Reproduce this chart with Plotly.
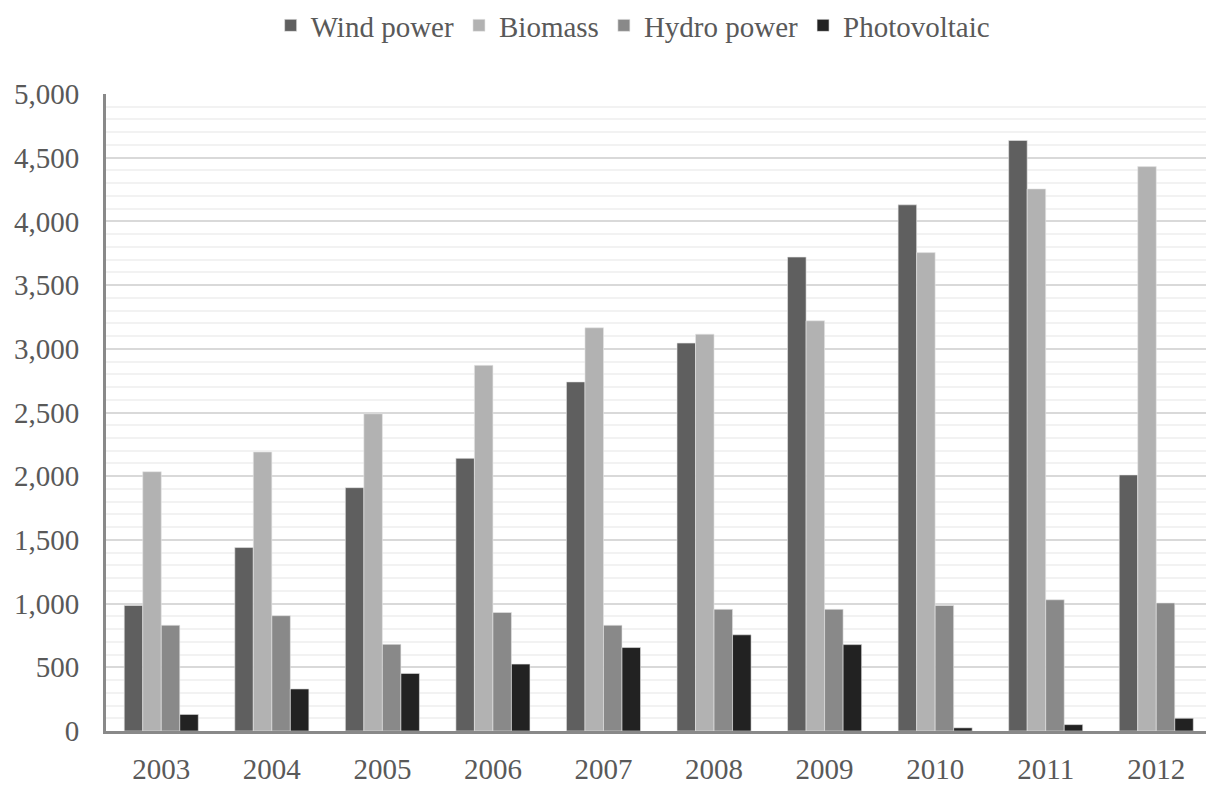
import plotly.graph_objects as go

years = ["2003", "2004", "2005", "2006", "2007", "2008", "2009", "2010", "2011", "2012"]
wind_power = [985, 1440, 1910, 2140, 2740, 3045, 3720, 4130, 4635, 2010]
biomass = [2035, 2190, 2490, 2870, 3165, 3115, 3220, 3755, 4255, 4430]
hydro_power = [830, 905, 680, 930, 830, 955, 955, 985, 1030, 1005]
photovoltaic = [130, 330, 452, 525, 655, 755, 678, 25, 50, 100]

series = [
    ("Wind power", wind_power, "#5f5f5f"),
    ("Biomass", biomass, "#b2b2b2"),
    ("Hydro power", hydro_power, "#898989"),
    ("Photovoltaic", photovoltaic, "#222222"),
]

font_family = "Liberation Serif, Times New Roman, serif"
text_color = "#595959"

fig = go.Figure()
for name, values, color in series:
    fig.add_trace(go.Bar(
        name=name,
        x=years,
        y=values,
        marker=dict(color=color, line=dict(color="#e6e6e6", width=0.6)),
    ))

fig.update_layout(
    width=1206,
    height=785,
    barmode="group",
    bargap=0.33,
    bargroupgap=0,
    plot_bgcolor="white",
    paper_bgcolor="white",
    margin=dict(l=106, r=0, t=94, b=51),
    font=dict(family=font_family, size=29, color=text_color),
    legend=dict(
        orientation="h",
        xref="container",
        yref="container",
        x=0.525,
        xanchor="center",
        y=1.0,
        yanchor="top",
        font=dict(family=font_family, size=29, color=text_color),
        itemwidth=30,
        tracegroupgap=0,
    ),
    xaxis=dict(
        type="category",
        range=[-0.5, 9.45],
        showgrid=False,
        showline=True,
        linecolor="#898989",
        linewidth=3,
        ticks="",
        ticklabelstandoff=10,
        tickfont=dict(family=font_family, size=29, color=text_color),
    ),
    yaxis=dict(
        range=[0, 5000],
        dtick=500,
        tickformat=",d",
        showgrid=True,
        gridcolor="#d9d9d9",
        gridwidth=2,
        showline=True,
        linecolor="#898989",
        linewidth=3,
        ticks="",
        ticklabelstandoff=18,
        zeroline=False,
        tickfont=dict(family=font_family, size=29, color=text_color),
        minor=dict(dtick=100, showgrid=True, gridcolor="#f2f2f2", gridwidth=2),
    ),
)

fig.write_html("out.html")
